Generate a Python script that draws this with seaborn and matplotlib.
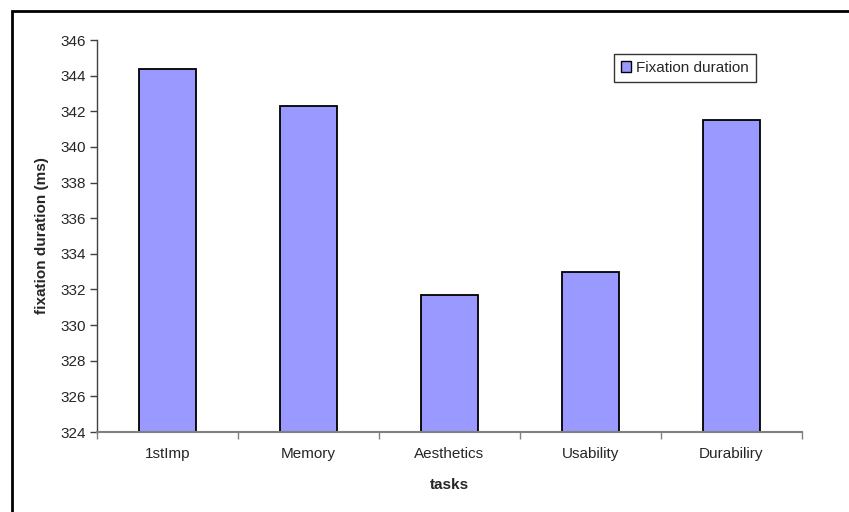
import matplotlib
matplotlib.use("Agg")
import matplotlib.pyplot as plt
import seaborn as sns
import pandas as pd
from matplotlib.patches import Rectangle, Patch

tasks = ["1stImp", "Memory", "Aesthetics", "Usability", "Durabiliry"]
fixation_ms = [344.4, 342.3, 331.7, 333.0, 341.5]
y_ticks = list(range(324, 347, 2))
series_name = "Fixation duration"

sns.set_theme(style="white")
plt.rcParams["font.family"] = ["Liberation Sans", "DejaVu Sans"]

df = pd.DataFrame({"task": tasks, "value": fixation_ms})

fig = plt.figure(figsize=(8.49, 5.12), dpi=100)
fig.patch.set_facecolor("white")
ax = fig.add_axes([97 / 849, 1 - 432 / 512, 705 / 849, 392 / 512])

bar_color = "#9999FF"
sns.barplot(data=df, x="task", y="value", ax=ax, color=bar_color,
            width=0.4, edgecolor="black", linewidth=1.3, saturation=1)

fs = 11
ax.set_ylim(324, 346)
ax.set_xlim(-0.5, len(tasks) - 0.5)
ax.set_yticks(y_ticks)
ax.set_yticklabels([str(v) for v in y_ticks], fontsize=fs)
ax.tick_params(axis="y", length=5, width=1, color="#404040", direction="out", pad=3, left=True)
ax.tick_params(axis="x", which="major", length=0, pad=11, labelsize=fs)
ax.set_xticks([i - 0.5 for i in range(len(tasks) + 1)], minor=True)
ax.tick_params(axis="x", which="minor", length=5, width=1, color="#808080", direction="out", bottom=True)

for side in ["top", "right"]:
    ax.spines[side].set_visible(False)
ax.spines["left"].set_color("#404040")
ax.spines["bottom"].set_color("#808080")
ax.spines["left"].set_linewidth(1)
ax.spines["bottom"].set_linewidth(1.5)

ax.set_xlabel("tasks", fontsize=fs, fontweight="bold", labelpad=12)
ax.set_ylabel("fixation duration (ms)", fontsize=fs, fontweight="bold", labelpad=8)

handle = Patch(facecolor=bar_color, edgecolor="black", linewidth=1)
leg = ax.legend([handle], [series_name], loc="upper left",
                bbox_to_anchor=(614 / 849, 1 - 54 / 512), bbox_transform=fig.transFigure,
                fontsize=fs, frameon=True, fancybox=False, handlelength=0.65,
                handleheight=0.65, handletextpad=0.35, borderpad=0.45, borderaxespad=0)
leg.get_frame().set_edgecolor("black")
leg.get_frame().set_linewidth(1)

# chart area border
fig.add_artist(Rectangle((12 / 849, -0.05), 1.1, 1 - 11 / 512 + 0.05,
                         transform=fig.transFigure, fill=False,
                         edgecolor="black", linewidth=2))

fig.savefig("out.png", dpi=100, facecolor="white")
